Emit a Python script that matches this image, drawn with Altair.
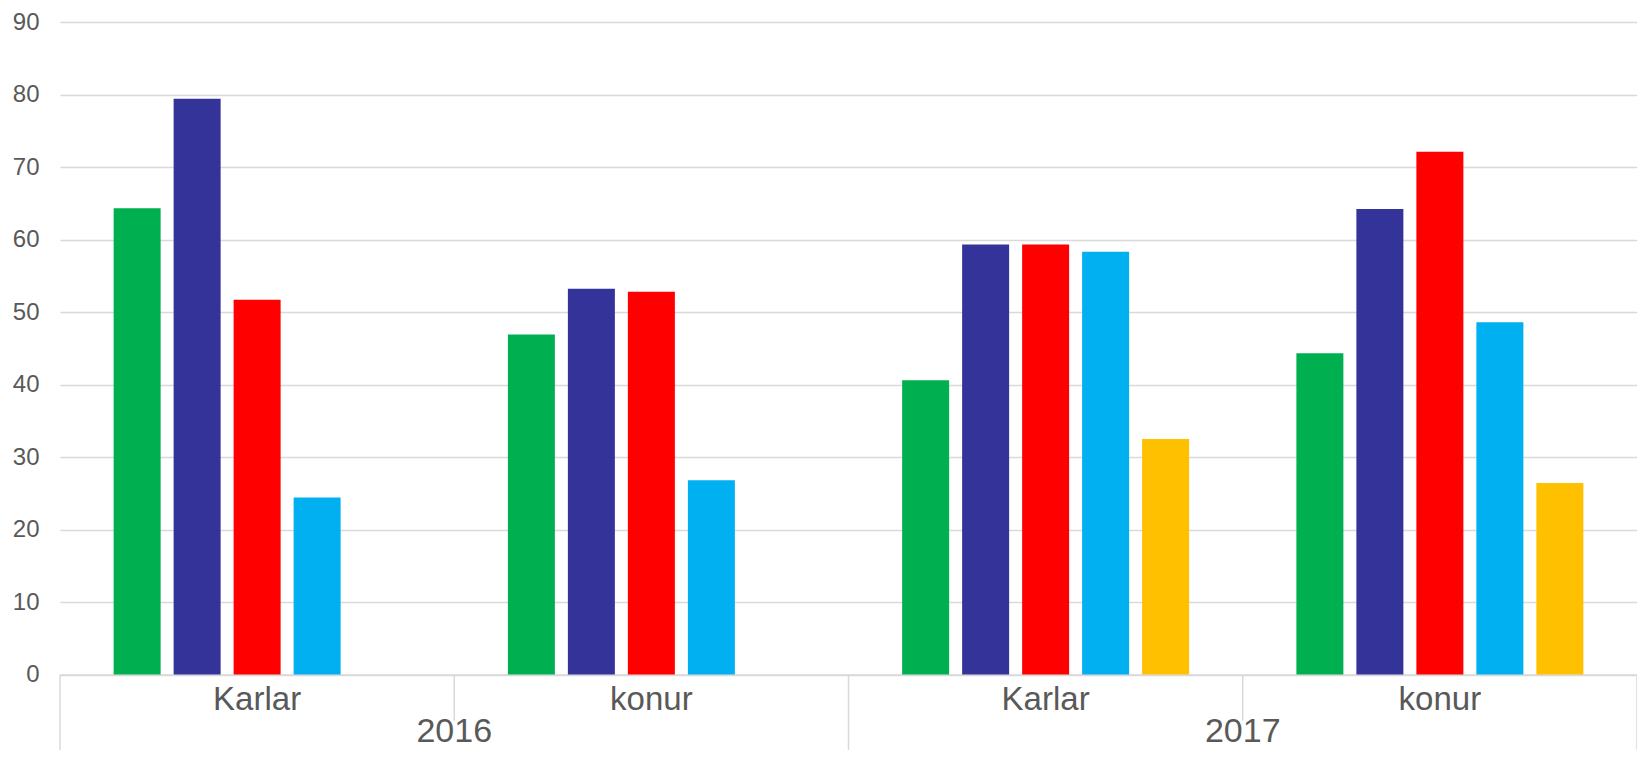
import altair as alt
import pandas as pd

# ---- data ----
years = ["2016", "2016", "2017", "2017"]
genders = ["Karlar", "konur", "Karlar", "konur"]
series = ["Röð 1", "Röð 2", "Röð 3", "Röð 4", "Röð 5"]
series_colors = ["#00B050", "#333399", "#FF0000", "#00B0F0", "#FFC000"]
green_vals = [64.3, 46.9, 40.6, 44.3]
blue_vals = [79.4, 53.2, 59.3, 64.2]
red_vals = [51.7, 52.8, 59.3, 72.1]
lightblue_vals = [24.4, 26.8, 58.3, 48.6]
yellow_vals = [None, None, 32.5, 26.4]

keys = [f"{y} {g}" for y, g in zip(years, genders)]
all_vals = [green_vals, blue_vals, red_vals, lightblue_vals, yellow_vals]

rows = []
for s, vals in zip(series, all_vals):
    for k, v in zip(keys, vals):
        if v is not None:
            rows.append({"key": k, "series": s, "value": v})
bars_df = pd.DataFrame(rows)

W, H = 1577, 652.5
FONT = "Liberation Sans"
GRID = "#D9D9D9"
TXT = "#595959"

xscale = alt.Scale(domain=keys, paddingInner=0, paddingOuter=0)

bars = alt.Chart(bars_df).mark_bar().encode(
    x=alt.X("key:N", scale=xscale, sort=keys,
            axis=alt.Axis(title=None, labelExpr="split(datum.label, ' ')[1]",
                          labelAngle=0, labelFontSize=33, labelColor=TXT,
                          labelFont=FONT, labelPadding=9, ticks=False,
                          domainColor=GRID, domainWidth=1.5, grid=False)),
    xOffset=alt.XOffset("series:N",
                        scale=alt.Scale(domain=series, paddingInner=0.2167,
                                        paddingOuter=0.894)),
    y=alt.Y("value:Q", scale=alt.Scale(domain=[0, 90], nice=False),
            axis=alt.Axis(title=None, values=list(range(0, 100, 10)),
                          labelFontSize=24, labelColor=TXT, labelFont=FONT,
                          labelPadding=21, ticks=False, domain=False,
                          gridColor=GRID, gridWidth=1.3)),
    color=alt.Color("series:N", scale=alt.Scale(domain=series, range=series_colors),
                    legend=None),
)

sep_df = pd.DataFrame({"key": keys, "year": years, "gender": genders})

short_sep = alt.Chart(sep_df).transform_filter(
    alt.datum.gender == "konur"
).mark_rule(color=GRID, strokeWidth=1.5).encode(
    x=alt.X("key:N", scale=xscale, sort=keys, bandPosition=0),
    y=alt.value(H),
    y2=alt.value(H + 46),
)

long_sep = alt.Chart(sep_df).transform_filter(
    alt.datum.gender == "Karlar"
).mark_rule(color=GRID, strokeWidth=1.5).encode(
    x=alt.X("key:N", scale=xscale, sort=keys, bandPosition=0),
    y=alt.value(H),
    y2=alt.value(H + 120),
)

right_edge = alt.Chart(sep_df).transform_filter(
    alt.datum.key == keys[-1]
).mark_rule(color=GRID, strokeWidth=1.5).encode(
    x=alt.X("key:N", scale=xscale, sort=keys, bandPosition=1),
    y=alt.value(H),
    y2=alt.value(H + 120),
)

year_text = alt.Chart(sep_df).transform_filter(
    alt.datum.gender == "konur"
).mark_text(fontSize=34, font=FONT, color=TXT, baseline="alphabetic",
            align="center").encode(
    x=alt.X("key:N", scale=xscale, sort=keys, bandPosition=0),
    y=alt.value(H + 67),
    text="year:N",
)

chart = alt.layer(bars, short_sep, long_sep, right_edge, year_text).properties(
    width=W, height=H,
    autosize=alt.AutoSizeParams(type="none"),
    padding={"left": 52, "top": 14, "right": 0, "bottom": 75.5},
).configure(font=FONT).configure_view(stroke="transparent", strokeWidth=0)

chart.save("out.html", embed_options={"renderer": "svg", "actions": False})
